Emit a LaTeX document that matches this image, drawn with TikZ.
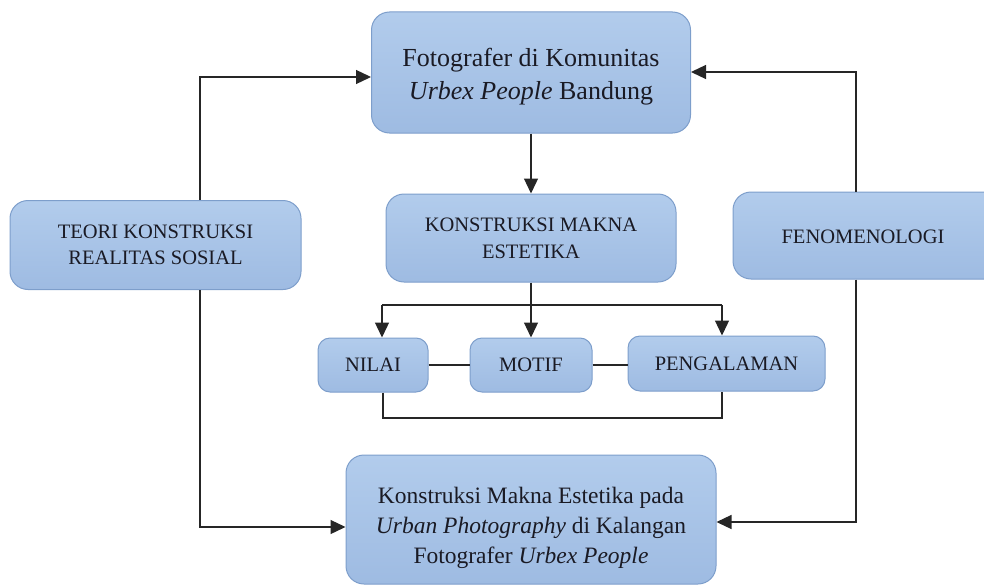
\documentclass[tikz,border=0pt]{standalone}
\usepackage{fontspec}
\setmainfont{Liberation Serif}
\usetikzlibrary{arrows.meta}
\definecolor{boxtop}{HTML}{B2CCEC}
\definecolor{boxbot}{HTML}{9EBBE2}
\definecolor{boxline}{HTML}{7D9ECB}
\definecolor{ink}{HTML}{1A1A24}
\definecolor{wire}{HTML}{262626}
\begin{document}
\begin{tikzpicture}[x=1pt,y=-1pt,
  box/.style={draw=boxline, line width=1pt, top color=boxtop, bottom color=boxbot,
    rounded corners=18pt, align=center, text=ink, inner sep=0pt},
  smallbox/.style={box, rounded corners=12pt},
  txt/.style={align=center, text=ink, inner sep=0pt},
  conn/.style={line width=1.3pt, draw=wire},
  arr/.style={conn, -{Triangle[length=15pt,width=14pt]}}]
\useasboundingbox (0,0) rectangle (984,586);

\node[box, minimum width=319pt, minimum height=121pt] (top) at (531,72.5) {};
\node[txt, font=\fontsize{26}{33}\selectfont] (toptext) at (531,77)
  {Fotografer di Komunitas\\\textit{Urbex People} Bandung};
\node[box, minimum width=290pt, minimum height=88pt, font=\fontsize{20.5}{27}\selectfont] (kon) at (531,238)
  {KONSTRUKSI MAKNA\\ESTETIKA};
\node[box, minimum width=291pt, minimum height=89pt, font=\fontsize{20.5}{26}\selectfont] (teori) at (155.5,245)
  {TEORI KONSTRUKSI\\REALITAS SOSIAL};
\node[box, minimum width=270pt, minimum height=87pt] (feno) at (868,235.5) {};
\node[txt, font=\fontsize{20.5}{26}\selectfont] (fenotext) at (863,236.5) {FENOMENOLOGI};
\node[smallbox, minimum width=110pt, minimum height=54pt, font=\fontsize{20.5}{26}\selectfont] (nilai) at (373,365)
  {NILAI};
\node[smallbox, minimum width=122pt, minimum height=54pt, font=\fontsize{20.5}{26}\selectfont] (motif) at (531,365)
  {MOTIF};
\node[smallbox, minimum width=197pt, minimum height=55pt, font=\fontsize{20.5}{26}\selectfont] (peng) at (726.5,363.5)
  {PENGALAMAN};
\node[box, minimum width=370pt, minimum height=129pt] (bot) at (531,519.5) {};
\node[txt, font=\fontsize{23.5}{30}\selectfont] (bottext) at (531,528)
  {Konstruksi Makna Estetika pada\\\textit{Urban Photography} di Kalangan\\Fotografer \textit{Urbex People}};

% centre column
\draw[arr] (top.south) -- (kon.north);
\coordinate (split) at (531,305);
\coordinate (bl) at (382,305);
\coordinate (br) at (722,305);
\draw[conn] (kon.south) -- (split);
\draw[conn] (bl) -- (br);
\draw[arr] (bl) -- (bl |- nilai.north);
\draw[arr] (split) -- (motif.north);
\draw[arr] (br) -- (br |- peng.north);
\draw[conn] (nilai.east) -- (motif.west);
\draw[conn] (motif.east) -- (motif.east -| peng.west);
\coordinate (bkl) at (383,418);
\coordinate (bkr) at (722,418);
\draw[conn] (bkl |- nilai.south) -- (bkl) -- (bkr) -- (bkr |- peng.south);

% left theory
\coordinate (tl) at (200,77);
\coordinate (tb) at (200,527);
\draw[arr] (tl |- teori.north) -- (tl) -- (tl -| top.west);
\draw[arr] (tb |- teori.south) -- (tb) -- (tb -| bot.west);

% right theory
\coordinate (fl) at (856,72);
\coordinate (fb) at (856,522);
\draw[arr] (fl |- feno.north) -- (fl) -- (fl -| top.east);
\draw[arr] (fb |- feno.south) -- (fb) -- (fb -| bot.east);
\end{tikzpicture}
\end{document}
